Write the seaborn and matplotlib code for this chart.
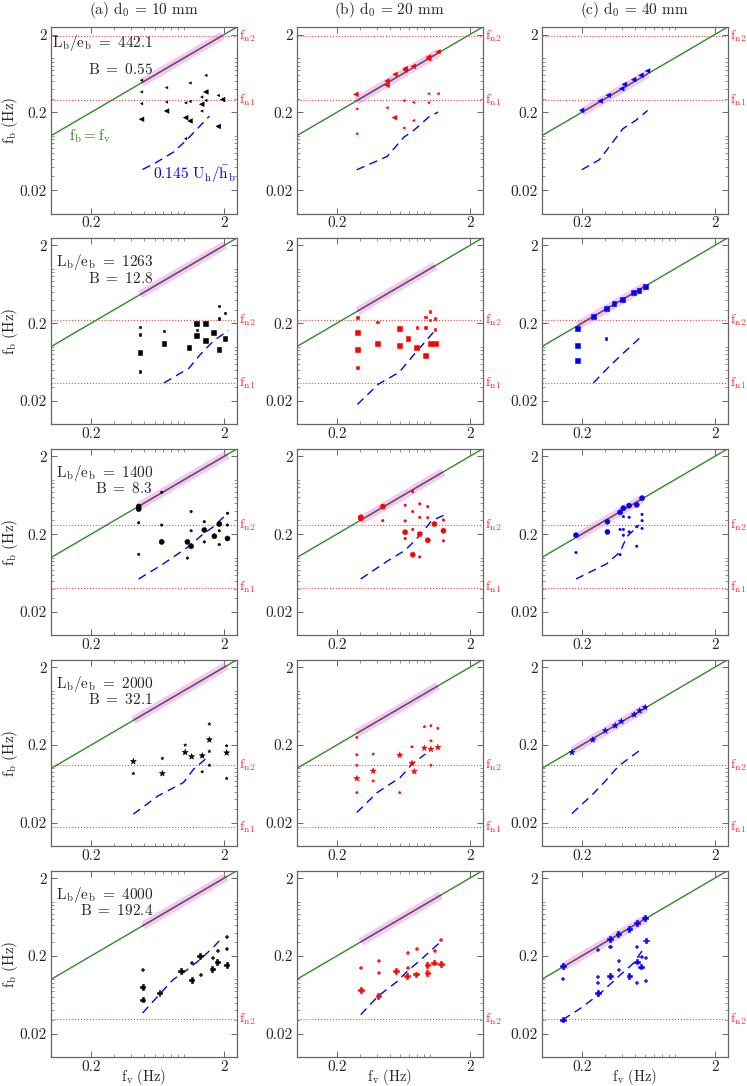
import numpy as np
import pandas as pd
import matplotlib
matplotlib.use('Agg')
import matplotlib.pyplot as plt
from matplotlib.ticker import FixedLocator, NullFormatter, LogLocator
import seaborn as sns

sns.set_style('ticks')
plt.rcParams['font.family'] = ['cmr10', 'DejaVu Serif']
plt.rcParams['mathtext.fontset'] = 'cm'
plt.rcParams['axes.unicode_minus'] = False
plt.rcParams['axes.formatter.use_mathtext'] = True

# --- data (f_v, f_b in Hz) ---
# row 1: L_b/e_b = 442.1
a1_x = [0.48, 0.48, 0.48, 0.48, 0.74, 0.74, 0.74, 1.03, 1.11, 1.11, 1.03, 1.11, 1.03,
        1.36, 1.36, 1.36, 1.46, 1.46, 1.46, 1.81, 1.95, 1.81]
a1_y = [0.516, 0.366, 0.259, 0.163, 0.416, 0.271, 0.208, 0.265, 0.477, 0.277, 0.171, 0.155, 0.0917,
        0.315, 0.254, 0.208, 0.598, 0.366, 0.284, 0.33, 0.292, 0.132]
a1_w = [1, 1, 1, 2, 1, 1, 2, 1, 1, 1, 2, 2, 1, 1, 2, 1, 1, 2, 1, 1, 2, 2]
a1_dx = [0.488, 0.624, 0.832, 1.05, 1.55]
a1_dy = [0.0369, 0.0459, 0.0617, 0.0889, 0.179]

b1_x = [0.279, 0.478, 0.478, 0.549, 0.653, 0.653, 0.754, 0.982, 0.982, 1.156,
        0.283, 0.283, 0.478, 0.544, 0.64, 0.64, 0.757, 0.757, 0.982, 0.982, 1.156]
b1_y = [0.341, 0.506, 0.446, 0.617, 0.730, 0.70, 0.782, 1.03, 0.98, 1.20,
        0.221, 0.106, 0.229, 0.171, 0.283, 0.126, 0.269, 0.157, 0.347, 0.265, 0.347]
b1_w = [2, 2, 2, 2, 2, 2, 2, 2, 2, 2, 1, 1, 1, 2, 1, 1, 1, 1, 1, 1, 1]
b1_dx = [0.283, 0.478, 0.64, 0.757, 0.982, 1.156]
b1_dy = [0.0366, 0.0542, 0.0962, 0.117, 0.174, 0.202]

c1_x = [0.2, 0.276, 0.317, 0.4, 0.419, 0.492, 0.558, 0.626]
c1_y = [0.212, 0.280, 0.331, 0.403, 0.459, 0.527, 0.599, 0.681]
c1_w = [2, 2, 2, 2, 2, 2, 2, 2]
c1_dx = [0.2, 0.271, 0.35, 0.407, 0.51, 0.626]
c1_dy = [0.0366, 0.0492, 0.0872, 0.123, 0.158, 0.212]

# row 2: L_b/e_b = 1263
a2_x = [0.467, 0.467, 0.467, 0.467, 0.707, 0.707, 1.09, 1.245, 1.245, 1.245, 1.455, 1.455,
        1.66, 1.83, 1.83, 1.83, 2.03, 2.03]
a2_y = [0.179, 0.144, 0.085, 0.048, 0.159, 0.109, 0.0966, 0.2, 0.164, 0.14, 0.2, 0.12,
        0.151, 0.336, 0.23, 0.0918, 0.27, 0.128]
a2_w = [1, 1, 2, 1, 1, 2, 2, 2, 1, 2, 2, 2, 2, 1, 1, 2, 1, 2]
a2_dx = [0.707, 1.09, 1.32, 1.66, 2.15]
a2_dy = [0.0343, 0.0531, 0.079, 0.118, 0.162]

b2_x = [0.286, 0.286, 0.286, 0.286, 0.406, 0.406, 0.591, 0.591, 0.687, 0.798, 0.798,
        0.927, 0.927, 0.927, 1.007, 1.007, 1.007, 1.097, 1.097, 1.097]
b2_y = [0.237, 0.153, 0.091, 0.054, 0.208, 0.109, 0.170, 0.104, 0.128, 0.176, 0.0966,
        0.242, 0.176, 0.0776, 0.283, 0.221, 0.109, 0.23, 0.166, 0.109]
b2_w = [1, 2, 2, 1, 1, 2, 2, 2, 2, 1, 2, 1, 1, 2, 1, 1, 2, 1, 1, 2]
b2_dx = [0.286, 0.41, 0.59, 0.76, 0.98, 1.11]
b2_dy = [0.0181, 0.0329, 0.047, 0.079, 0.130, 0.166]

c2_x = [0.186, 0.245, 0.305, 0.35, 0.406, 0.489, 0.539, 0.605, 0.186, 0.186, 0.305]
c2_y = [0.170, 0.242, 0.307, 0.36, 0.406, 0.496, 0.531, 0.593, 0.1025, 0.0662, 0.128]
c2_w = [2, 2, 2, 2, 2, 2, 2, 2, 2, 2, 1]
c2_dx = [0.245, 0.317, 0.399, 0.547]
c2_dy = [0.0343, 0.0542, 0.079, 0.130]

# row 3: L_b/e_b = 1400
a3_x = [0.456, 0.456, 0.456, 0.456, 0.679, 0.679, 0.679, 1.06, 1.06, 1.13, 1.13, 1.13,
        1.42, 1.42, 1.42, 1.69, 1.84, 1.84, 1.84, 2.12, 2.12, 2.12]
a3_y = [0.453, 0.42, 0.28, 0.11, 0.689, 0.262, 0.159, 0.159, 0.0986, 0.14, 0.221, 0.39,
        0.289, 0.226, 0.159, 0.188, 0.27, 0.221, 0.147, 0.371, 0.262, 0.176]
a3_w = [2, 2, 1, 1, 1, 1, 2, 2, 1, 2, 1, 1, 1, 2, 1, 2, 2, 1, 1, 1, 1, 2]
a3_dx = [0.456, 0.7, 1.07, 1.37, 1.66, 2.15]
a3_dy = [0.0531, 0.0832, 0.137, 0.196, 0.249, 0.378]

b3_x = [0.303, 0.303, 0.444, 0.745, 0.444, 0.653, 0.653, 0.653, 0.653, 0.745, 0.745, 0.745,
        0.841, 0.841, 0.841, 0.841, 0.966, 0.966, 0.966, 1.084, 1.267, 1.267, 1.267]
b3_y = [0.319, 0.33, 0.453, 0.702, 0.298, 0.471, 0.296, 0.212, 0.176, 0.39, 0.23, 0.109,
        0.491, 0.329, 0.2, 0.102, 0.453, 0.325, 0.167, 0.27, 0.304, 0.221, 0.164]
b3_w = [2, 2, 2, 1, 1, 1, 1, 2, 1, 1, 1, 2, 1, 1, 2, 1, 1, 1, 2, 2, 1, 2, 1]
b3_dx = [0.303, 0.488, 0.653, 0.822, 1.035, 1.27]
b3_dy = [0.0531, 0.0918, 0.124, 0.185, 0.298, 0.349]

c3_x = [0.181, 0.312, 0.388, 0.411, 0.454, 0.518, 0.568, 0.181, 0.312, 0.388, 0.388,
        0.411, 0.411, 0.411, 0.454, 0.454, 0.518, 0.518, 0.568, 0.568, 0.568]
c3_y = [0.194, 0.289, 0.382, 0.431, 0.465, 0.476, 0.581, 0.116, 0.214, 0.23, 0.109,
        0.336, 0.23, 0.194, 0.329, 0.214, 0.249, 0.14, 0.359, 0.298, 0.237]
c3_w = [2, 2, 2, 2, 2, 2, 2, 1, 2, 1, 1, 1, 1, 1, 1, 1, 1, 1, 1, 1, 1]
c3_dx = [0.181, 0.308, 0.388, 0.436, 0.539]
c3_dy = [0.0531, 0.0832, 0.118, 0.185, 0.262]

# row 4: L_b/e_b = 2000
a4_x = [0.416, 0.416, 0.687, 0.687, 1.02, 1.02, 1.14, 1.37, 1.37, 1.55, 1.55, 1.55, 1.55,
        2.09, 2.09, 2.09]
a4_y = [0.123, 0.0863, 0.135, 0.0863, 0.2, 0.161, 0.142, 0.146, 0.0907, 0.373, 0.234, 0.166,
        0.11, 0.196, 0.159, 0.0745]
a4_w = [2, 1, 1, 2, 1, 2, 2, 2, 1, 1, 2, 1, 1, 1, 2, 1]
a4_dx = [0.416, 0.64, 0.99, 1.18, 1.52]
a4_dy = [0.0259, 0.0446, 0.0661, 0.098, 0.142]

b4_x = [0.283, 0.283, 0.283, 0.283, 0.283, 0.376, 0.376, 0.376, 0.595, 0.595, 0.736, 0.736,
        0.766, 0.911, 0.911, 1.02, 1.02, 1.02, 1.02, 1.15, 1.15]
b4_y = [0.251, 0.15, 0.11, 0.0745, 0.049, 0.153, 0.093, 0.069, 0.149, 0.049, 0.19, 0.117,
        0.0916, 0.344, 0.183, 0.355, 0.227, 0.177, 0.11, 0.328, 0.187]
b4_w = [1, 1, 1, 2, 1, 1, 2, 1, 2, 1, 1, 2, 2, 1, 2, 1, 1, 2, 1, 1, 2]
b4_dx = [0.283, 0.402, 0.6, 0.736, 0.925]
b4_dy = [0.0272, 0.049, 0.0767, 0.114, 0.153]

c4_x = [0.169, 0.242, 0.301, 0.357, 0.397, 0.496, 0.545, 0.6]
c4_y = [0.161, 0.234, 0.306, 0.355, 0.403, 0.492, 0.552, 0.611]
c4_w = [2, 2, 2, 2, 2, 2, 2, 2]
c4_dx = [0.169, 0.245, 0.301, 0.379, 0.561]
c4_dy = [0.0264, 0.0477, 0.069, 0.108, 0.177]

# row 5: L_b/e_b = 4000
a5_x = [0.488, 0.488, 0.488, 0.653, 0.944, 1.14, 1.14, 1.32, 1.32, 1.63, 1.63, 1.78, 1.78,
        2.09, 2.09, 2.09]
a5_y = [0.134, 0.080, 0.055, 0.067, 0.129, 0.166, 0.098, 0.2, 0.116, 0.192, 0.136, 0.234,
        0.166, 0.356, 0.251, 0.153]
a5_w = [1, 2, 2, 2, 2, 1, 2, 2, 1, 1, 2, 1, 2, 1, 1, 2]
a5_dx = [0.488, 0.653, 0.83, 1.05, 1.32, 1.66, 1.95]
a5_dy = [0.037, 0.064, 0.0998, 0.132, 0.18, 0.259, 0.348]

b5_x = [0.303, 0.303, 0.411, 0.411, 0.411, 0.558, 0.676, 0.676, 0.676, 0.789, 0.789,
        0.96, 0.96, 1.08, 1.08, 1.21, 1.21]
b5_y = [0.141, 0.0727, 0.177, 0.123, 0.0614, 0.128, 0.223, 0.141, 0.110, 0.251, 0.116,
        0.153, 0.121, 0.232, 0.164, 0.322, 0.158]
b5_w = [1, 2, 1, 1, 2, 2, 1, 1, 2, 1, 2, 2, 2, 1, 2, 1, 2]
b5_dx = [0.303, 0.411, 0.565, 0.67, 0.85, 1.21]
b5_dy = [0.0352, 0.0614, 0.093, 0.125, 0.177, 0.306]

c5_x = [0.144, 0.326, 0.377, 0.456, 0.518, 0.598, 0.144, 0.144, 0.264, 0.264, 0.264, 0.264,
        0.326, 0.326, 0.377, 0.377, 0.456, 0.518, 0.518, 0.518, 0.558, 0.558, 0.606, 0.606, 0.606]
c5_y = [0.148, 0.332, 0.381, 0.447, 0.529, 0.614, 0.103, 0.0304, 0.239, 0.11, 0.0904, 0.067,
        0.264, 0.11, 0.177, 0.134, 0.11, 0.264, 0.169, 0.0904, 0.196, 0.146, 0.316, 0.19, 0.098]
c5_w = [2, 2, 2, 2, 2, 2, 1, 2, 1, 1, 1, 2, 1, 2, 1, 1, 2, 1, 2, 1, 1, 2, 2, 1, 1]
c5_dx = [0.144, 0.194, 0.275, 0.387, 0.489, 0.598]
c5_dy = [0.0304, 0.042, 0.0659, 0.113, 0.161, 0.264]

# natural frequencies per row (None = off the plot)
fn1 = [0.29, 0.034, 0.041, 0.0178, None]
fn2 = [1.9, 0.221, 0.262, 0.111, 0.031]

lb_eb = ['442.1', '1263', '1400', '2000', '4000']
b_num = ['0.55', '12.8', '8.3', '32.1', '192.4']
d0_mm = ['10', '20', '40']
col_tags = ['a', 'b', 'c']

panels = [
    [(a1_x, a1_y, a1_w, a1_dx, a1_dy), (b1_x, b1_y, b1_w, b1_dx, b1_dy), (c1_x, c1_y, c1_w, c1_dx, c1_dy)],
    [(a2_x, a2_y, a2_w, a2_dx, a2_dy), (b2_x, b2_y, b2_w, b2_dx, b2_dy), (c2_x, c2_y, c2_w, c2_dx, c2_dy)],
    [(a3_x, a3_y, a3_w, a3_dx, a3_dy), (b3_x, b3_y, b3_w, b3_dx, b3_dy), (c3_x, c3_y, c3_w, c3_dx, c3_dy)],
    [(a4_x, a4_y, a4_w, a4_dx, a4_dy), (b4_x, b4_y, b4_w, b4_dx, b4_dy), (c4_x, c4_y, c4_w, c4_dx, c4_dy)],
    [(a5_x, a5_y, a5_w, a5_dx, a5_dy), (b5_x, b5_y, b5_w, b5_dx, b5_dy), (c5_x, c5_y, c5_w, c5_dx, c5_dy)],
]

row_markers = ['<', 's', 'o', '*', 'P']
row_sizes = [(3, 11), (3, 12), (3, 13), (5, 20), (5, 16)]
col_colors = ['black', 'red', 'blue']

XLIM = (0.1, 2.5)
YLIM = (0.01, 2.5)

fig = plt.figure(figsize=(7.47, 10.86), dpi=100)
W, H = 747, 1086
col_left = [51, 296.7, 541.7]
ax_w, ax_h = 186, 186.6

for r in range(5):
    top = 27 + 210.9 * r
    for c in range(3):
        ax = fig.add_axes([col_left[c] / W, 1 - (top + ax_h) / H, ax_w / W, ax_h / H])
        px, py, pw, dx, dy = panels[r][c]
        col = col_colors[c]

        ax.set_xscale('log')
        ax.set_yscale('log')

        # f_b = f_v reference line and the highlighted lock-in band
        ref = np.array(XLIM)
        ax.plot(ref, ref, color='#2e8b22', lw=1.0, zorder=2)
        lo, hi = min(px), max(px)
        ax.plot([lo, hi], [lo, hi], color='violet', lw=6, alpha=0.45,
                solid_capstyle='butt', zorder=2)
        ax.plot([lo, hi], [lo, hi], color='#555555', lw=1.0, zorder=3)

        # natural frequency lines
        for val, name in ((fn1[r], 'n1'), (fn2[r], 'n2')):
            if val is None:
                continue
            ax.axhline(val, color='red', ls=':', lw=0.8, alpha=0.75, zorder=1)
            ax.text(1.012, val, r'$\mathrm{f_{%s}}$' % name, color='#ff3030', fontsize=10,
                    transform=ax.get_yaxis_transform(), ha='left', va='center')

        # 0.145 U_h / h_b prediction
        sns.lineplot(x=dx, y=dy, ax=ax, color='blue', lw=1.0, estimator=None, sort=False,
                     linestyle=(0, (6, 4)), zorder=4)

        df = pd.DataFrame({'fv': px, 'fb': py, 'w': pw})
        sns.scatterplot(data=df, x='fv', y='fb', size='w', sizes=row_sizes[r], size_norm=(1, 2),
                        marker=row_markers[r], color=col, edgecolor=col, linewidth=0.4,
                        legend=False, ax=ax, zorder=5)

        ax.set_xlim(*XLIM)
        ax.set_ylim(*YLIM)
        ax.xaxis.set_major_locator(FixedLocator([0.2, 2]))
        ax.yaxis.set_major_locator(FixedLocator([0.02, 0.2, 2]))
        ax.set_xticklabels(['0.2', '2'])
        ax.set_yticklabels(['0.02', '0.2', '2'])
        ax.xaxis.set_minor_locator(LogLocator(subs=np.arange(1, 10)))
        ax.yaxis.set_minor_locator(LogLocator(subs=np.arange(1, 10)))
        ax.xaxis.set_minor_formatter(NullFormatter())
        ax.yaxis.set_minor_formatter(NullFormatter())
        ax.tick_params(which='both', direction='in', top=True, right=True,
                       color='#666666', labelsize=11)
        ax.tick_params(which='major', length=4, width=0.7)
        ax.tick_params(which='minor', length=2, width=0.5)
        ax.tick_params(axis='x', which='major', pad=2)
        ax.tick_params(axis='y', which='major', pad=3)
        for s in ax.spines.values():
            s.set_color('#666666')
            s.set_linewidth(0.9)

        if r == 4:
            ax.set_xlabel(r'$\mathrm{f_v\ (Hz)}$', fontsize=10.5)
            ax.xaxis.set_label_coords(0.5, -0.05)
        else:
            ax.set_xlabel('')
        ax.set_ylabel(r'$\mathrm{f_b\ (Hz)}$' if c == 0 else '', fontsize=11, labelpad=0)

        if c == 0:
            ly, by = (0.916, 0.77) if r == 0 else (0.87, 0.785)
            ax.text(0.55, ly, r'$\mathrm{L_b/e_b\ =\ %s}$' % lb_eb[r], transform=ax.transAxes,
                    ha='right', va='center', fontsize=11)
            ax.text(0.55, by, r'$\mathrm{B\ =\ %s}$' % b_num[r], transform=ax.transAxes,
                    ha='right', va='center', fontsize=11)
        if r == 0:
            ax.set_title(r'(%s) $\mathrm{d_0}$ = %s mm' % (col_tags[c], d0_mm[c]),
                         fontsize=11, pad=9)
            if c == 0:
                ax.text(0.21, 0.415, r'$\mathrm{f_b = f_v}$', color='#2e8b22',
                        transform=ax.transAxes, ha='center', va='center', fontsize=11)
                ax.text(0.77, 0.212, r'$\mathrm{0.145\ U_h/\bar{h}_b}$', color='blue',
                        transform=ax.transAxes, ha='center', va='center', fontsize=11)

fig.savefig('out.png', dpi=100)
